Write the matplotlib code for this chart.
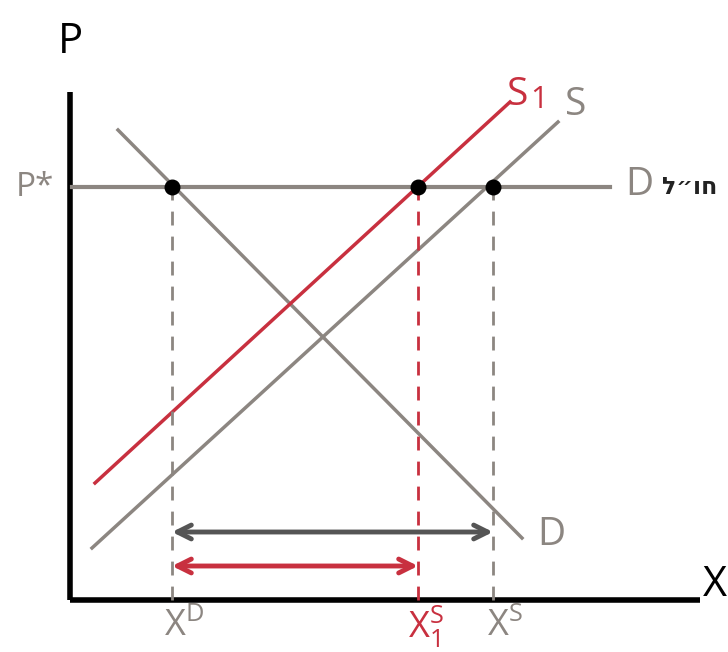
import matplotlib
matplotlib.use('Agg')
import matplotlib.pyplot as plt

# Data (diagram units: origin at the axes corner)
p_star = 413
demand_x = [48, 452]
demand_y = [470, 62]
supply_x = [22, 488]
supply_y = [52, 478]
supply1_x = [25, 440]
supply1_y = [117, 498]
world_d_x = [2, 540]
x_demand = 102
x_supply1 = 348
x_supply = 423
gap_y = [68, 34]
x_labels = ['X$^{\\mathregular{D}}$', 'X$_{\\mathregular{1}}^{\\mathregular{S}}$', 'X$^{\\mathregular{S}}$']

plt.rcParams['font.family'] = ['Open Sans', 'DejaVu Sans']

gray = '#8c8681'
red = '#c8303f'
dark = '#555555'

fig = plt.figure(figsize=(7.28, 6.52), dpi=100)
ax = fig.add_axes([0, 0, 1, 1])
ax.set_xlim(-70, 658)
ax.set_ylim(-52, 600)
ax.axis('off')

# axes
ax.plot([0, 0], [0, 508], color='black', lw=4, solid_capstyle='butt')
ax.plot([0, 630], [0, 0], color='black', lw=4, solid_capstyle='butt')
ax.text(0, 558, 'P', fontsize=30, ha='center', va='center')
ax.text(645, 15, 'X', fontsize=30, ha='center', va='center')

# curves
ax.plot(world_d_x, [p_star, p_star], color=gray, lw=3)
ax.plot(demand_x, demand_y, color=gray, lw=2.5)
ax.plot(supply_x, supply_y, color=gray, lw=2.5)
ax.plot(supply1_x, supply1_y, color=red, lw=2.5)

# dashed drops
ax.plot([x_demand, x_demand], [0, p_star], color=gray, lw=2, ls=(0, (5, 4)))
ax.plot([x_supply, x_supply], [0, p_star], color=gray, lw=2, ls=(0, (5, 4)))
ax.plot([x_supply1, x_supply1], [0, p_star], color=red, lw=2, ls=(0, (5, 4)))

ax.scatter([x_demand, x_supply1, x_supply], [p_star] * 3, s=110, color='black', zorder=5)

# gap arrows
ax.annotate('', xy=(x_demand, gap_y[0]), xytext=(x_supply, gap_y[0]),
            arrowprops=dict(arrowstyle='<->,head_length=1.0,head_width=0.5', color=dark, lw=3.5, shrinkA=0, shrinkB=0))
ax.annotate('', xy=(x_demand, gap_y[1]), xytext=(x_supply1, gap_y[1]),
            arrowprops=dict(arrowstyle='<->,head_length=1.0,head_width=0.5', color=red, lw=3.5, shrinkA=0, shrinkB=0))

# labels
ax.text(-35, p_star, 'P*', fontsize=24, color=gray, ha='center', va='center')
ax.text(555, p_star + 2, 'D', fontsize=28, color=gray, ha='left', va='center')
ax.text(592, p_star - 1, 'חו״ל'[::-1], fontsize=17, color='#222222', ha='left', va='center',
        fontweight='bold')
ax.text(467, 65, 'D', fontsize=28, color=gray, ha='left', va='center')
ax.text(495, 495, 'S', fontsize=28, color=gray, ha='left', va='center')
ax.text(437, 505, 'S', fontsize=28, color=red, ha='left', va='center')
ax.text(460, 500, '1', fontsize=22, color=red, ha='left', va='center')

ax.text(x_demand + 12, -27, x_labels[0], fontsize=26, color=gray, ha='center', va='center')
ax.text(x_supply1 + 8, -27, x_labels[1], fontsize=26, color=red, ha='center', va='center')
ax.text(x_supply + 12, -27, x_labels[2], fontsize=26, color=gray, ha='center', va='center')

fig.savefig('out.png', dpi=100)
